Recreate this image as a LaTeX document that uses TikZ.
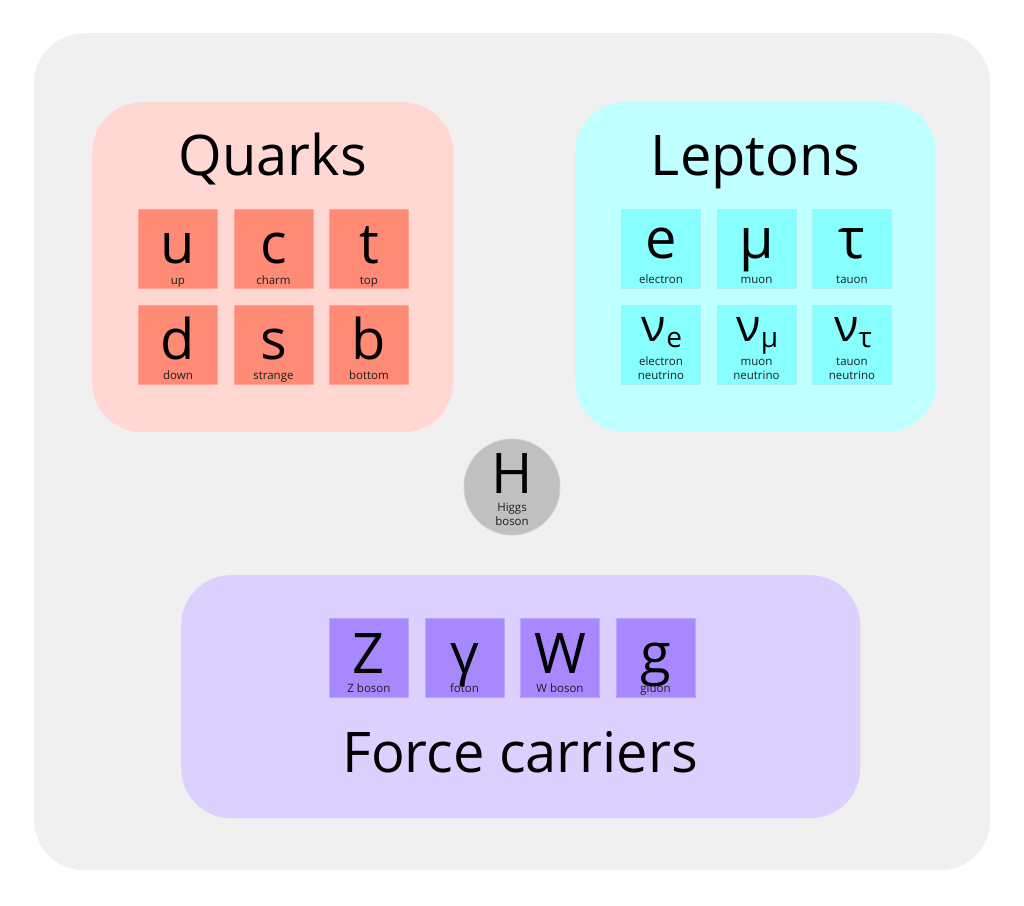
\documentclass[tikz,border=0pt]{standalone}
\usepackage{fontspec}
\setmainfont{Open Sans}
\usetikzlibrary{calc}
\definecolor{bggray}{HTML}{F0F0F0}
\definecolor{quarkbox}{HTML}{FFD8D4}
\definecolor{quarkcell}{HTML}{FF8A75}
\definecolor{quarkedge}{HTML}{FFA592}
\definecolor{leptonbox}{HTML}{C0FFFF}
\definecolor{leptoncell}{HTML}{88FFFF}
\definecolor{leptonedge}{HTML}{A6F2F2}
\definecolor{forcebox}{HTML}{DCD0FF}
\definecolor{forcecell}{HTML}{A888FF}
\definecolor{forceedge}{HTML}{BBA2FF}
\definecolor{higgsfill}{HTML}{C0C0C0}
\definecolor{higgsedge}{HTML}{CECECE}
\definecolor{labelc}{HTML}{1E1E1E}
\newcommand\bigf{\fontsize{56}{60}\selectfont}
\newcommand\nuf{\fontsize{45}{50}\selectfont}
\newcommand\subf{\fontsize{28}{30}\selectfont}
\begin{document}
\begin{tikzpicture}[x=1pt,y=-1pt,
  groupbox/.style={rounded corners=50pt, minimum width=361pt, minimum height=330pt, inner sep=0pt, anchor=north west},
  cellbase/.style={minimum width=79pt, minimum height=79pt, inner sep=0pt, anchor=north west, line width=0.9pt},
  qcell/.style={cellbase, fill=quarkcell, draw=quarkedge},
  lcell/.style={cellbase, fill=leptoncell, draw=leptonedge},
  fcell/.style={cellbase, fill=forcecell, draw=forceedge},
  title/.style={font=\bigf, anchor=base, inner sep=0pt},
  big/.style={font=\bigf, anchor=base, inner sep=0pt, text depth=0pt},
  lbl/.style={font=\fontsize{11.5}{14}\selectfont, text=labelc, anchor=base, inner sep=0pt, text depth=0pt}]
\useasboundingbox (0,0) rectangle (1024,905);
\node[fill=bggray, rounded corners=50pt, minimum width=956pt, minimum height=837pt, inner sep=0pt, anchor=north west] (frame) at (34,33) {};
% group boxes
\node[groupbox, fill=quarkbox] (quarks) at (92,102) {};
\node[groupbox, fill=leptonbox] (leptons) at (575,102) {};
\node[groupbox, fill=forcebox, minimum width=679pt, minimum height=243pt] (forces) at (181,575) {};
\node[title] (quarkstitle) at ($(quarks.north)+(0,73)$) {Quarks};
\node[title] (leptonstitle) at ($(leptons.north)+(0,73)$) {Leptons};
\node[title] (forcetitle) at (520,772) {Force carriers};
% quarks
\node[qcell] (qu) at (138,209) {};
\node[qcell] (qc) at (233.5,209) {};
\node[qcell] (qt) at (329,209) {};
\node[qcell] (qd) at (138,305) {};
\node[qcell] (qs) at (233.5,305) {};
\node[qcell] (qb) at (329,305) {};
\node[big] (qu-s) at ($(qu.north)+(0,54.5)$) {u};
\node[big] (qc-s) at ($(qc.north)+(0,54.5)$) {c};
\node[big] (qt-s) at ($(qt.north)+(0,54.5)$) {t};
\node[big] (qd-s) at ($(qd.north)+(0,54.5)$) {d};
\node[big] (qs-s) at ($(qs.north)+(0,54.5)$) {s};
\node[big] (qb-s) at ($(qb.north)+(0,54.5)$) {b};
\node[lbl] (qu-l) at ($(qu.north)+(0,75)$) {up};
\node[lbl] (qc-l) at ($(qc.north)+(0,75)$) {charm};
\node[lbl] (qt-l) at ($(qt.north)+(0,75)$) {top};
\node[lbl] (qd-l) at ($(qd.north)+(0,74.5)$) {down};
\node[lbl] (qs-l) at ($(qs.north)+(0,74.5)$) {strange};
\node[lbl] (qb-l) at ($(qb.north)+(0,74.5)$) {bottom};
% leptons
\node[lcell] (le) at (621,209) {};
\node[lcell] (lm) at (716.5,209) {};
\node[lcell] (lt) at (812,209) {};
\node[lcell] (lne) at (621,305) {};
\node[lcell] (lnm) at (716.5,305) {};
\node[lcell] (lnt) at (812,305) {};
\node[big] (le-s) at ($(le.north)+(0,49)$) {e};
\node[big] (lm-s) at ($(lm.north)+(0,49)$) {μ};
\node[big] (lt-s) at ($(lt.north)+(0,49)$) {τ};
\node[big] (lne-s) at ($(lne.north)+(1,36)$) {{\nuf ν}{\subf\raisebox{-6.5pt}{e}}};
\node[big] (lnm-s) at ($(lnm.north)+(1,36)$) {{\nuf ν}{\subf\raisebox{-6.5pt}{μ}}};
\node[big] (lnt-s) at ($(lnt.north)+(1,36)$) {{\nuf ν}{\subf\raisebox{-6.5pt}{τ}}};
\node[lbl] (le-l) at ($(le.north)+(0,74.5)$) {electron};
\node[lbl] (lm-l) at ($(lm.north)+(0,74.5)$) {muon};
\node[lbl] (lt-l) at ($(lt.north)+(0,74.5)$) {tauon};
\node[lbl] (lne-l1) at ($(lne.north)+(0,60)$) {electron};
\node[lbl] (lne-l2) at ($(lne.north)+(0,74.5)$) {neutrino};
\node[lbl] (lnm-l1) at ($(lnm.north)+(0,60)$) {muon};
\node[lbl] (lnm-l2) at ($(lnm.north)+(0,74.5)$) {neutrino};
\node[lbl] (lnt-l1) at ($(lnt.north)+(0,60)$) {tauon};
\node[lbl] (lnt-l2) at ($(lnt.north)+(0,74.5)$) {neutrino};
% higgs
\node[circle, fill=higgsfill, draw=higgsedge, line width=0.9pt, minimum size=96pt, inner sep=0pt] (higgs) at (512,487) {};
\node[big] (higgs-s) at ($(higgs.center)+(0,6)$) {H};
\node[lbl] (higgs-l1) at ($(higgs.center)+(0,24)$) {Higgs};
\node[lbl] (higgs-l2) at ($(higgs.center)+(0,38.5)$) {boson};
% force carriers
\node[fcell] (fz) at (329,618) {};
\node[fcell] (fg) at (424.5,618) {};
\node[fcell] (fw) at (520,618) {};
\node[fcell] (fgl) at (615.5,618) {};
\node[big] (fz-s) at ($(fz.north)+(0,55)$) {Z};
\node[big] (fg-s) at ($(fg.north)+(0,55)$) {γ};
\node[big] (fw-s) at ($(fw.north)+(0,55)$) {W};
\node[big] (fgl-s) at ($(fgl.north)+(0,55)$) {g};
\node[lbl] (fz-l) at ($(fz.north)+(0,74.5)$) {Z boson};
\node[lbl] (fg-l) at ($(fg.north)+(0,74.5)$) {foton};
\node[lbl] (fw-l) at ($(fw.north)+(0,74.5)$) {W boson};
\node[lbl] (fgl-l) at ($(fgl.north)+(0,74.5)$) {gluon};
\end{tikzpicture}
\end{document}
